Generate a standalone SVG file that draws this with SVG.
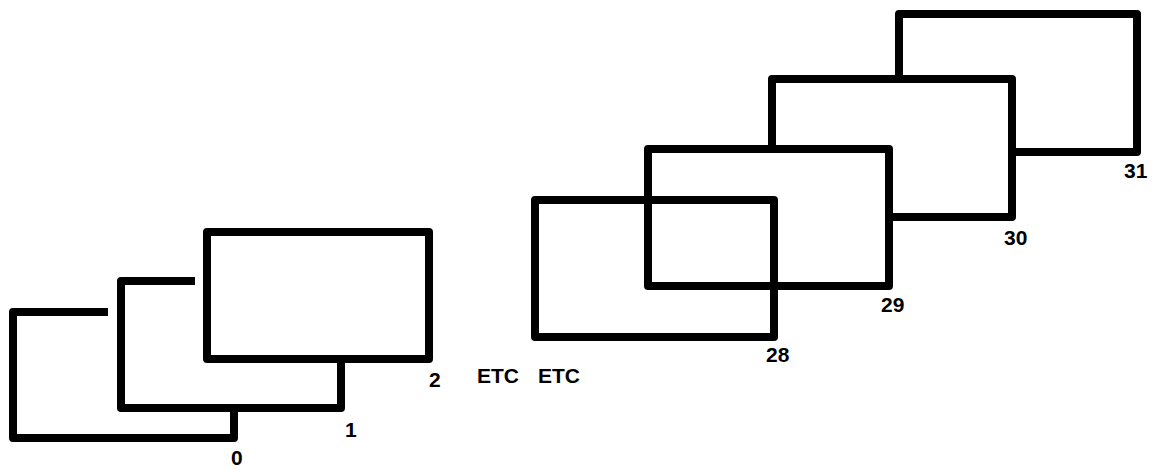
<svg xmlns="http://www.w3.org/2000/svg" width="1156" height="470" viewBox="0 0 1156 470">
  <style>
    .frame { fill: none; stroke: #000; stroke-width: 8; stroke-linejoin: round; stroke-linecap: butt; }
    .lbl { font-family: "Liberation Sans", Arial, sans-serif; font-weight: bold; font-size: 21px; fill: #000; }
  </style>
  <rect x="0" y="0" width="1156" height="470" fill="#fff"/>
  <g id="frame-0">
    <path class="frame" d="M108,312 H13 V438 H234 V408"/>
    <text class="lbl" x="231" y="465">0</text>
  </g>
  <g id="frame-1">
    <path class="frame" d="M195,281 H121 V408 H341 V359"/>
    <text class="lbl" x="345" y="437">1</text>
  </g>
  <g id="frame-2">
    <path class="frame" d="M207,232 H429 V359 H207 Z"/>
    <text class="lbl" x="429" y="387">2</text>
  </g>
  <g id="etc">
    <text class="lbl" y="383"><tspan x="477">ETC</tspan> <tspan x="538">ETC</tspan></text>
  </g>
  <g id="frame-31">
    <path class="frame" d="M899,79 V14 H1137 V152 H1012"/>
    <text class="lbl" x="1124" y="178">31</text>
  </g>
  <g id="frame-30">
    <path class="frame" d="M772,149 V79 H1012 V217 H889"/>
    <text class="lbl" x="1004" y="245">30</text>
  </g>
  <g id="frame-28">
    <path class="frame" d="M535,200 H774 V337 H535 Z"/>
    <text class="lbl" x="766" y="362">28</text>
  </g>
  <g id="frame-29">
    <path class="frame" d="M648,149 H889 V286 H648 Z"/>
    <text class="lbl" x="881" y="312">29</text>
  </g>
  <g id="connectors"/>
</svg>
